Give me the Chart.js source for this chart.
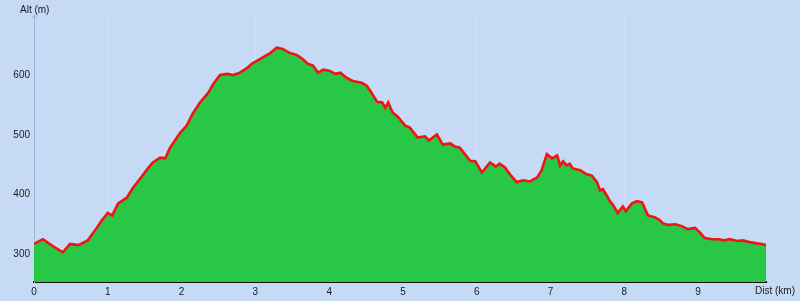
<!DOCTYPE html>
<html>
<head>
<meta charset="utf-8">
<script src="https://cdn.jsdelivr.net/npm/chart.js@4/dist/chart.umd.min.js"></script>
<style>
  html, body { margin: 0; padding: 0; background: #c6daf6; }
  #wrap { width: 800px; height: 301px; position: relative; }
</style>
</head>
<body>
<div id="wrap"><canvas id="profile"></canvas></div>
<script>
// distance along the track (km) and altitude (m)
const distKm = [
  0, 0.12, 0.26, 0.39, 0.49, 0.60, 0.73, 0.85, 0.92, 1.00, 1.06, 1.14, 1.26, 1.34, 1.44,
  1.53, 1.61, 1.71, 1.78, 1.84, 1.98, 2.07, 2.15, 2.25, 2.36, 2.43, 2.52, 2.62, 2.70, 2.79,
  2.89, 2.95, 3.02, 3.20, 3.29, 3.37, 3.47, 3.56, 3.64, 3.71, 3.78, 3.85, 3.92, 4.01, 4.08,
  4.15, 4.24, 4.32, 4.44, 4.51, 4.58, 4.65, 4.72, 4.76, 4.80, 4.86, 4.93, 5.03, 5.09, 5.20,
  5.30, 5.35, 5.46, 5.54, 5.64, 5.70, 5.77, 5.91, 5.98, 6.07, 6.18, 6.26, 6.31, 6.38, 6.45,
  6.54, 6.63, 6.72, 6.82, 6.88, 6.95, 7.02, 7.09, 7.13, 7.17, 7.22, 7.26, 7.30, 7.40, 7.49,
  7.56, 7.63, 7.67, 7.71, 7.80, 7.85, 7.91, 7.98, 8.02, 8.10, 8.17, 8.24, 8.32, 8.41, 8.48,
  8.52, 8.59, 8.69, 8.78, 8.86, 8.96, 9.02, 9.09, 9.19, 9.27, 9.36, 9.43, 9.53, 9.61, 9.70,
  9.80, 9.86, 9.92
];
const altM = [
  317, 325, 313, 303, 317, 315, 323, 344, 357, 369, 365, 385, 395, 411, 427,
  442, 454, 462, 461, 478, 504, 516, 536, 555, 571, 586, 601, 603, 601, 605,
  613, 620, 625, 638, 647, 645, 638, 635, 628, 620, 617, 605, 610, 608, 603,
  605, 596, 591, 588, 583, 570, 556, 555, 546, 555, 538, 531, 516, 513, 496,
  498, 491, 501, 484, 486, 481, 479, 457, 456, 437, 454, 447, 452, 446, 434,
  421, 424, 422, 429, 441, 468, 461, 466, 449, 456, 449, 452, 444, 441, 434,
  432, 421, 407, 409, 390, 382, 369, 380, 372, 385, 389, 387, 365, 362, 357,
  352, 349, 350, 347, 342, 344, 337, 327, 325, 325, 323, 325, 322, 323, 320,
  318, 317, 315
];
const xTicks = [0, 1, 2, 3, 4, 5, 6, 7, 8, 9];
const yTicks = [300, 400, 500, 600];
const altMin = 253;
const altMax = 702;

const profilePoints = distKm.map((d, i) => ({ x: d, y: altM[i] }));
const lastKm = distKm[distKm.length - 1];
const lastAlt = altM[altM.length - 1];
const endEdge = [{ x: lastKm, y: altMin }, { x: lastKm, y: lastAlt }];

const axisText = {
  id: "axisText",
  afterDraw(chart) {
    const ctx = chart.ctx;
    const area = chart.chartArea;
    ctx.save();
    ctx.fillStyle = "#1a1a1a";
    ctx.font = "10px 'Liberation Sans', Arial, sans-serif";
    ctx.textBaseline = "middle";
    ctx.textAlign = "left";
    ctx.fillText("Alt (m)", 20, 10);
    ctx.textAlign = "right";
    ctx.fillText("Dist (km)", 795, 291);
    // small arrow on top of the altitude axis
    ctx.strokeStyle = "#9db4d4";
    ctx.lineWidth = 1;
    ctx.beginPath();
    ctx.moveTo(area.left - 2.5, area.top + 4);
    ctx.lineTo(area.left + 0.5, area.top);
    ctx.lineTo(area.left + 3.5, area.top + 4);
    ctx.stroke();
    ctx.restore();
  },
};

new Chart(document.getElementById("profile"), {
  type: "line",
  data: {
    datasets: [
      {
        label: "Altitude",
        data: profilePoints,
        borderColor: "#f01414",
        borderWidth: 2.6,
        backgroundColor: "#28c846",
        fill: "start",
        pointRadius: 0,
        tension: 0,
      },
      {
        label: "End",
        data: endEdge,
        borderColor: "#111111",
        borderWidth: 2,
        pointRadius: 0,
        fill: false,
      },
    ],
  },
  options: {
    responsive: true,
    maintainAspectRatio: false,
    animation: false,
    layout: { padding: { top: 15, right: 34, left: 0, bottom: 0 } },
    plugins: {
      legend: { display: false },
      tooltip: { enabled: false },
    },
    scales: {
      x: {
        type: "linear",
        min: 0,
        max: lastKm,
        afterBuildTicks: (scale) => {
          scale.ticks = xTicks.map((v) => ({ value: v }));
        },
        afterFit: (scale) => {
          scale.height = 19;
        },
        grid: {
          color: (c) => (c.tick && c.tick.value === 0 ? "rgba(0,0,0,0)" : "#cddff8"),
          lineWidth: 1,
          drawTicks: false,
        },
        border: { color: "#111111", width: 2 },
        ticks: {
          color: "#1a1a1a",
          padding: 4,
          maxRotation: 0,
          font: { family: "'Liberation Sans', Arial, sans-serif", size: 10 },
        },
      },
      y: {
        type: "linear",
        min: altMin,
        max: altMax,
        afterBuildTicks: (scale) => {
          scale.ticks = yTicks.map((v) => ({ value: v }));
        },
        afterFit: (scale) => {
          scale.width = 34;
        },
        grid: { display: false, drawTicks: false },
        border: { color: "#9db4d4", width: 1 },
        ticks: {
          color: "#1a1a1a",
          padding: 4,
          font: { family: "'Liberation Sans', Arial, sans-serif", size: 10 },
        },
      },
    },
  },
  plugins: [axisText],
});
</script>
</body>
</html>
